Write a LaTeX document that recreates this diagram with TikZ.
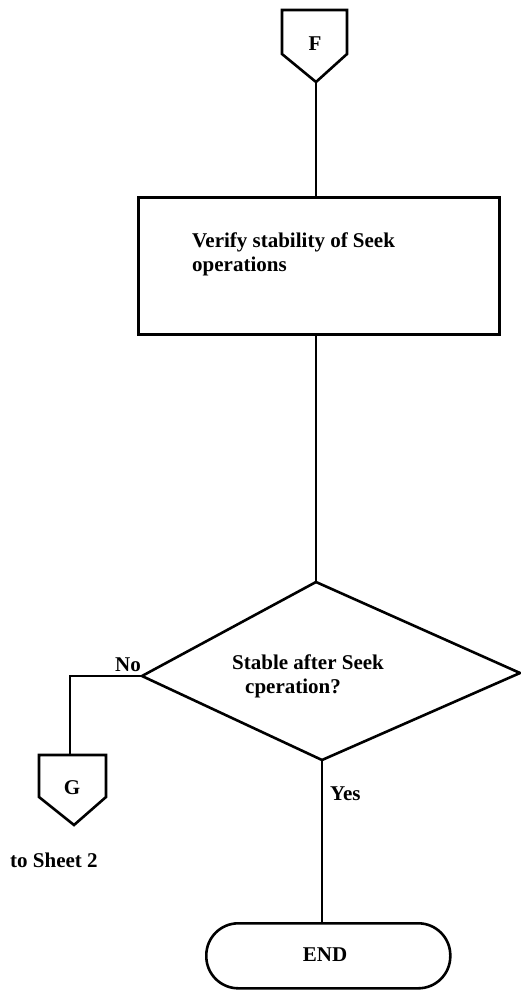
\documentclass[tikz,border=0pt]{standalone}
\usepackage{fontspec}
\setmainfont{Liberation Serif}
\usetikzlibrary{calc}
\begin{document}
\begin{tikzpicture}[x=1pt,y=-1pt,
  shapeline/.style={line width=2.6pt, line join=miter},
  conn/.style={line width=1.6pt},
  lbl/.style={font=\fontsize{21}{24}\selectfont\bfseries, inner sep=0pt}]
\useasboundingbox (0,0) rectangle (521,990);

% connector F
\path (282,10) coordinate (F1) (347,10) coordinate (F2) (347,54) coordinate (F3)
      (316,82) coordinate (Ftip) (282,54) coordinate (F5);
\draw[shapeline] (F1) -- (F2) -- (F3) -- (Ftip) -- (F5) -- cycle;
\node[lbl] (Flabel) at (315,44) {F};

% process box
\node[draw, shapeline, minimum width=361pt, minimum height=137pt,
      anchor=north west, inner sep=0pt] (box) at (137,196) {};
\node[lbl, anchor=north west, align=left] (boxtxt) at (192,233)
  {Verify stability of Seek\\operations};

% decision diamond
\path (316,582) coordinate (dtop) (142,676) coordinate (dleft)
      (520,673) coordinate (dright) (322,760) coordinate (dbot);
\draw[shapeline] (dtop) -- (dright) -- (dbot) -- (dleft) -- cycle;
\node[lbl, anchor=north west, align=left] (dtxt) at (232,655)
  {Stable after Seek\\\hspace*{13pt}cperation?};

% connector G
\path (39,755) coordinate (G1) (106,755) coordinate (G2) (106,797) coordinate (G3)
      (74,825) coordinate (Gtip) (39,797) coordinate (G5) (70,755) coordinate (Gtop);
\draw[shapeline] (G1) -- (G2) -- (G3) -- (Gtip) -- (G5) -- cycle;
\node[lbl] (Glabel) at (72,788) {G};
\node[lbl, anchor=base west] (sheet) at (10,867) {to Sheet 2};

% terminal
\node[draw, shapeline, rounded corners=32pt, minimum width=244pt, minimum height=65pt,
      anchor=north west, inner sep=0pt] (end) at (205,922) {};
\node[lbl] (endtxt) at (325,955) {END};

% connectors
\draw[conn] (Ftip) -- (Ftip |- box.north);
\draw[conn] (box.south -| dtop) -- (dtop);
\draw[conn] (dleft) -| (Gtop);
\draw[conn] (dbot) -- (dbot |- end.north);

% labels
\node[lbl, anchor=base east] (no) at (141,671) {No};
\node[lbl, anchor=base west] (yes) at (330,800) {Yes};
\end{tikzpicture}
\end{document}
